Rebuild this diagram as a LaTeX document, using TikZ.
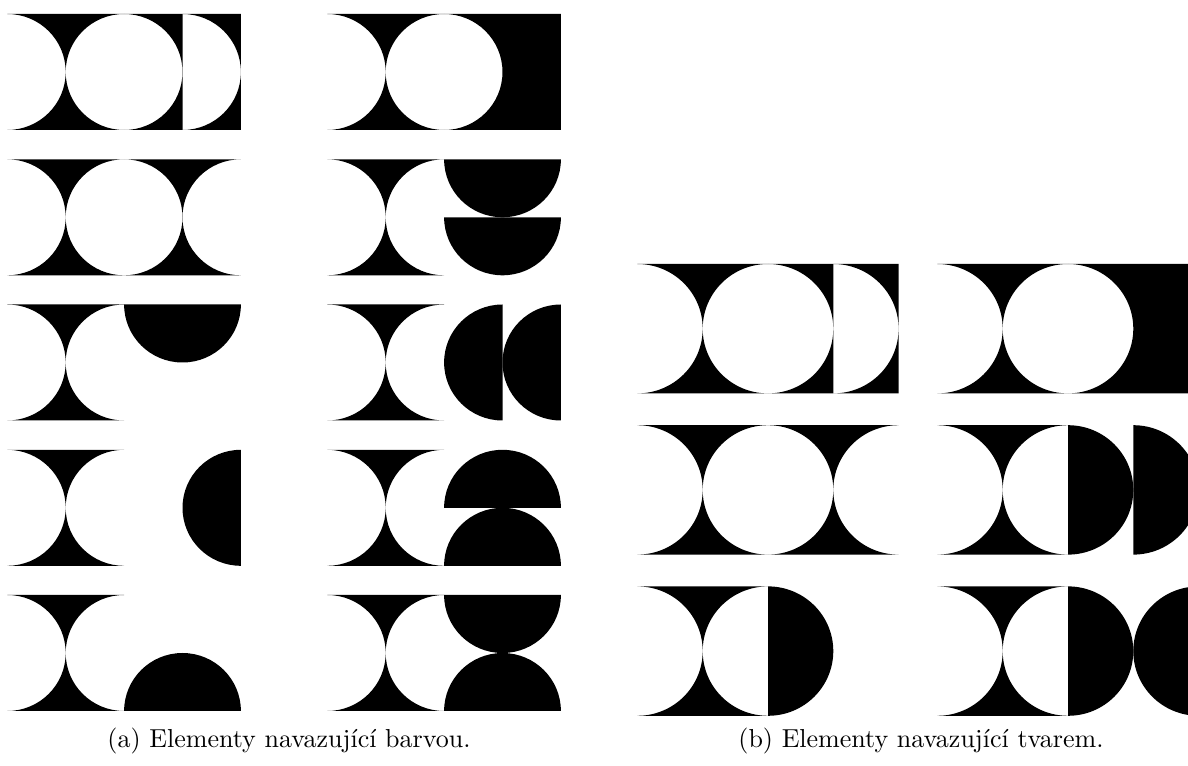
\documentclass[tikz,border=0pt]{standalone}
\usepackage{tikz}

% black half disc of radius 1, centre #1, from angle #2 over 180 degrees
\newcommand{\halfdisc}[2]{%
  \fill (#1) ++(#2:1) arc[start angle=#2, delta angle=180, radius=1] -- cycle;}

% black square with two white half discs cut out, left edge at x=#1
\newcommand{\hourcell}[1]{%
  \fill (#1,0) -- ++(2,0) arc[start angle=-90, end angle=-180, radius=1]
    arc[start angle=0, end angle=-90, radius=1] -- cycle;
  \fill (#1,2) -- ++(2,0) arc[start angle=90, end angle=180, radius=1]
    arc[start angle=0, end angle=90, radius=1] -- cycle;}

% black strip of width #2 with a white half disc cut out on its left
\newcommand{\opencell}[2]{%
  \fill (#1,0) -- ++(#2,0) -- ++(0,2) -- (#1,2)
    arc[start angle=90, end angle=-90, radius=1] -- cycle;}

% one element: base cell plus the body #4, placed at (#2,#3)
\newcommand{\element}[4]{%
  \begin{scope}[shift={(#2,#3)}, #1]
    \hourcell{0}
    #4
  \end{scope}}

\tikzset{
  panel a/.style={xscale=58.4, yscale=58},
  panel b/.style={xscale=65.3, yscale=64.7},
}

\begin{document}
\begin{tikzpicture}[x=0.3846pt, y=-0.3846pt]
  \useasboundingbox (0,0) rectangle (1188,766);
  \clip (0,0) rectangle (1188,766);

  % (a) elements connecting by colour
  \element{panel a}{7.3}{14}{%
    \opencell{2}{1}
    \opencell{3}{1}}
  \element{panel a}{327.3}{14}{%
    \opencell{2}{2}}
  \element{panel a}{7.3}{159.3}{%
    \hourcell{2}}
  \element{panel a}{327.3}{159.3}{%
    \halfdisc{3,0}{0}
    \halfdisc{3,1}{0}}
  \element{panel a}{7.3}{304.5}{%
    \halfdisc{3,0}{0}}
  \element{panel a}{327.3}{304.5}{%
    \halfdisc{3,1}{90}
    \halfdisc{4,1}{90}}
  \element{panel a}{7.3}{449.8}{%
    \halfdisc{4,1}{90}}
  \element{panel a}{327.3}{449.8}{%
    \halfdisc{3,1}{180}
    \halfdisc{3,2}{180}}
  \element{panel a}{7.3}{595}{%
    \halfdisc{3,2}{180}}
  \element{panel a}{327.3}{595}{%
    \halfdisc{3,0}{0}
    \halfdisc{3,2}{180}}

  % (b) elements connecting by shape
  \element{panel b}{637.4}{264}{%
    \opencell{2}{1}
    \opencell{3}{1}}
  \element{panel b}{937.4}{264}{%
    \opencell{2}{2}}
  \element{panel b}{637.4}{425.2}{%
    \hourcell{2}}
  \element{panel b}{937.4}{425.2}{%
    \halfdisc{2,1}{-90}
    \halfdisc{3,1}{-90}}
  \element{panel b}{637.4}{586.4}{%
    \halfdisc{2,1}{-90}}
  \element{panel b}{937.4}{586.4}{%
    \halfdisc{2,1}{-90}
    \halfdisc{4,1}{90}}

  \node[anchor=base] (capa) at (289,748) {(a) Elementy navazující barvou.};
  \node[anchor=base] (capb) at (921,748) {(b) Elementy navazující tvarem.};
\end{tikzpicture}
\end{document}
